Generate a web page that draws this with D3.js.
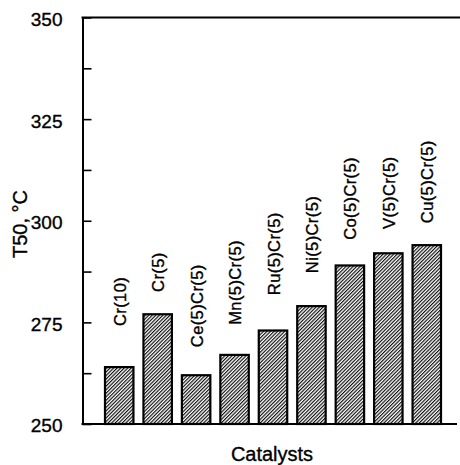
<!DOCTYPE html>
<html lang="en">
<head>
<meta charset="UTF-8">
<title>T50 by catalyst</title>
<style>
  body { margin: 0; background: #fff; }
  svg text { font-family: "Liberation Sans", Arial, Helvetica, sans-serif; fill: #000; stroke: #000; stroke-width: 0.35px; }
</style>
</head>
<body>
<div id="chart"></div>
<script src="https://d3js.org/d3.v7.min.js"></script>
<script>
// data
var catalysts = ["Cr(10)", "Cr(5)", "Ce(5)Cr(5)", "Mn(5)Cr(5)", "Ru(5)Cr(5)", "Ni(5)Cr(5)", "Co(5)Cr(5)", "V(5)Cr(5)", "Cu(5)Cr(5)"];
var t50 = [264, 277, 262, 267, 273, 279, 289, 292, 294];
// where each bar label ends (in T50 units), as placed in the original
var labelAt = [274.1, 282.5, 268.9, 274.4, 281.7, 287.1, 295.3, 298.0, 299.4];
var yTicks = [250, 262.5, 275, 287.5, 300, 312.5, 325, 337.5, 350];
var yLabels = [250, 275, 300, 325, 350];

var W = 460, H = 465;
var plotLeft = 82.5, plotTop = 17.5, plotBottom = 424, plotRight = 460;

var svg = d3.select("#chart").append("svg")
    .attr("width", W)
    .attr("height", H);

// hatch pattern for bars
var defs = svg.append("defs");
defs.append("pattern")
    .attr("id", "hatch")
    .attr("patternUnits", "userSpaceOnUse")
    .attr("width", 2.5)
    .attr("height", 10)
    .attr("patternTransform", "rotate(45)")
  .append("line")
    .attr("x1", 0.6).attr("y1", 0)
    .attr("x2", 0.6).attr("y2", 10)
    .attr("stroke", "#000")
    .attr("stroke-width", 1.1);

var x = d3.scaleBand()
    .domain(catalysts)
    .range([100, 446])
    .paddingInner(0.26)
    .paddingOuter(0.13);

var y = d3.scaleLinear()
    .domain([250, 350])
    .range([plotBottom, plotTop]);

// left axis with inward ticks
var yAxis = svg.append("g")
    .attr("transform", "translate(" + plotLeft + ",0)")
    .call(d3.axisLeft(y)
        .tickValues(yTicks)
        .tickSizeInner(-9)
        .tickSizeOuter(0)
        .tickPadding(20)
        .tickFormat(function(d) { return yLabels.indexOf(d) >= 0 ? d : ""; }));
yAxis.select(".domain").attr("stroke-width", 2);
yAxis.selectAll(".tick line").attr("stroke-width", 1.6);
yAxis.selectAll(".tick text")
    .style("font-size", "19px")
    .attr("dy", "0.42em");

// top and bottom frame lines
svg.append("line")
    .attr("x1", plotLeft - 1).attr("x2", plotRight)
    .attr("y1", plotTop).attr("y2", plotTop)
    .attr("stroke", "#000").attr("stroke-width", 2);
svg.append("line")
    .attr("x1", plotLeft - 1).attr("x2", 457)
    .attr("y1", plotBottom).attr("y2", plotBottom)
    .attr("stroke", "#000").attr("stroke-width", 2);

// bars
svg.append("g").selectAll("rect")
    .data(t50)
  .enter().append("rect")
    .attr("x", function(d, i) { return x(catalysts[i]); })
    .attr("y", function(d) { return y(d); })
    .attr("width", x.bandwidth())
    .attr("height", function(d) { return plotBottom - y(d); })
    .attr("fill", "url(#hatch)")
    .attr("stroke", "#000")
    .attr("stroke-width", 2.2);

// vertical bar labels
svg.append("g").selectAll("text")
    .data(catalysts)
  .enter().append("text")
    .attr("transform", function(d, i) {
      return "translate(" + (x(d) + x.bandwidth() / 2 + 6.5) + "," + y(labelAt[i]) + ") rotate(-90)";
    })
    .attr("text-anchor", "start")
    .style("font-size", "16.5px")
    .style("letter-spacing", "0.4px")
    .text(function(d) { return d; });

// axis titles
svg.append("text")
    .attr("transform", "translate(27,224) rotate(-90)")
    .attr("text-anchor", "middle")
    .style("font-size", "20px")
    .text("T50, \u00b0C");

svg.append("text")
    .attr("x", 272)
    .attr("y", 461)
    .attr("text-anchor", "middle")
    .style("font-size", "20px")
    .text("Catalysts");
</script>
</body>
</html>
